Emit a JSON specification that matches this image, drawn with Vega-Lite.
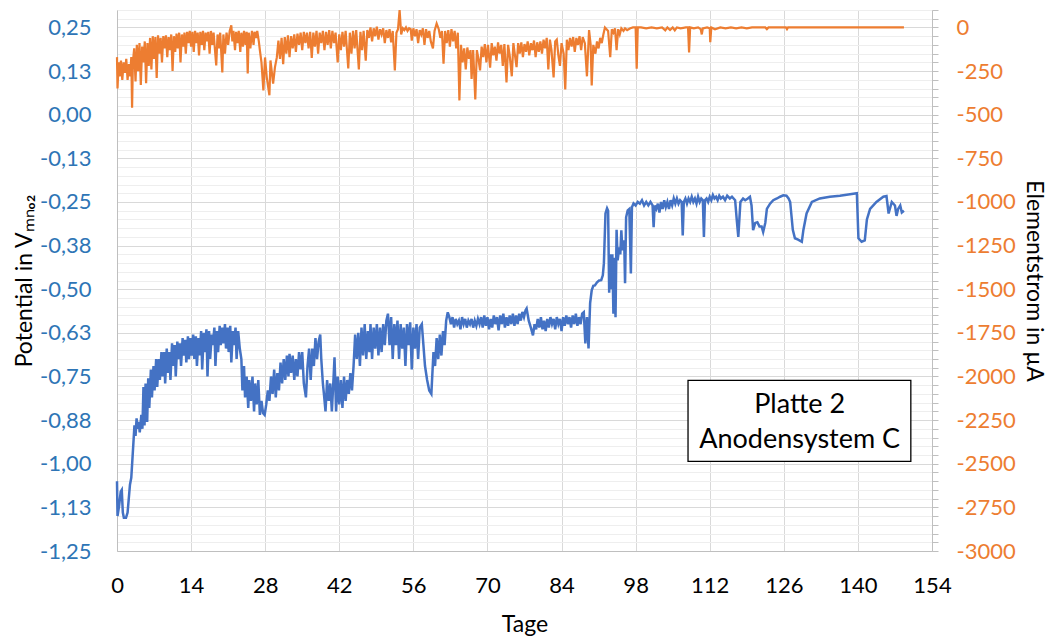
{
"$schema": "https://vega.github.io/schema/vega-lite/v6.json",
"width": 815, "height": 541,
"autosize": {"type": "none"},
"padding": {"left": 117, "top": 10, "right": 118, "bottom": 91},
"background": "white",
"config": {"view": {"stroke": null}, "font": "Lato", "text": {"font": "Lato"}},
"datasets": {
"pot": [
{"t":0,"v":-1.05},{"t":0.1,"v":-1.15},{"t":0.4,"v":-1.12},{"t":0.7,"v":-1.08},{"t":0.9,"v":-1.075},{"t":1.1,"v":-1.14},{"t":1.3,"v":-1.155},{"t":1.7,"v":-1.155},{"t":2.0,"v":-1.14},{"t":2.45,"v":-1.06},{"t":2.7,"v":-1.04},{"t":3.1,"v":-0.94},{"t":3.3,"v":-0.89},{"t":3.5,"v":-0.92},{"t":3.7,"v":-0.87},{"t":3.9,"v":-0.9},{"t":4.1,"v":-0.88},{"t":4.3,"v":-0.91},{"t":4.6,"v":-0.86},{"t":4.8,"v":-0.9},{"t":5.0,"v":-0.78},{"t":5.2,"v":-0.89},{"t":5.4,"v":-0.77},{"t":5.7,"v":-0.88},{"t":5.9,"v":-0.755},{"t":6.1,"v":-0.84},{"t":6.4,"v":-0.73},{"t":6.6,"v":-0.81},{"t":6.9,"v":-0.72},{"t":7.1,"v":-0.79},{"t":7.4,"v":-0.70},{"t":7.6,"v":-0.78},{"t":7.9,"v":-0.70},{"t":8.1,"v":-0.76},{"t":8.4,"v":-0.68},{"t":8.6,"v":-0.75},{"t":8.9,"v":-0.68},{"t":9.1,"v":-0.77},{"t":9.4,"v":-0.67},{"t":9.6,"v":-0.74},{"t":9.9,"v":-0.68},{"t":10.1,"v":-0.76},{"t":10.4,"v":-0.655},{"t":10.6,"v":-0.72},{"t":10.9,"v":-0.66},{"t":11.1,"v":-0.75},{"t":11.4,"v":-0.65},{"t":11.6,"v":-0.70},{"t":11.9,"v":-0.655},{"t":12.1,"v":-0.72},{"t":12.4,"v":-0.64},{"t":12.6,"v":-0.69},{"t":12.9,"v":-0.645},{"t":13.1,"v":-0.71},{"t":13.4,"v":-0.635},{"t":13.6,"v":-0.70},{"t":13.9,"v":-0.64},{"t":14.1,"v":-0.69},{"t":14.4,"v":-0.63},{"t":14.6,"v":-0.70},{"t":14.9,"v":-0.635},{"t":15.1,"v":-0.72},{"t":15.4,"v":-0.64},{"t":15.6,"v":-0.69},{"t":15.9,"v":-0.62},{"t":16.1,"v":-0.73},{"t":16.4,"v":-0.625},{"t":16.6,"v":-0.68},{"t":16.9,"v":-0.615},{"t":17.1,"v":-0.75},{"t":17.4,"v":-0.62},{"t":17.6,"v":-0.70},{"t":17.9,"v":-0.63},{"t":18.1,"v":-0.66},{"t":18.4,"v":-0.61},{"t":18.6,"v":-0.72},{"t":18.9,"v":-0.62},{"t":19.1,"v":-0.68},{"t":19.4,"v":-0.605},{"t":19.6,"v":-0.66},{"t":19.9,"v":-0.61},{"t":20.1,"v":-0.655},{"t":20.4,"v":-0.60},{"t":20.6,"v":-0.67},{"t":20.9,"v":-0.61},{"t":21.1,"v":-0.68},{"t":21.4,"v":-0.605},{"t":21.6,"v":-0.71},{"t":21.9,"v":-0.62},{"t":22.1,"v":-0.66},{"t":22.4,"v":-0.61},{"t":22.6,"v":-0.70},{"t":22.9,"v":-0.62},{"t":23.2,"v":-0.67},{"t":23.5,"v":-0.70},{"t":23.7,"v":-0.79},{"t":24.0,"v":-0.72},{"t":24.2,"v":-0.81},{"t":24.5,"v":-0.75},{"t":24.8,"v":-0.84},{"t":25.0,"v":-0.76},{"t":25.3,"v":-0.82},{"t":25.6,"v":-0.75},{"t":25.9,"v":-0.85},{"t":26.1,"v":-0.77},{"t":26.4,"v":-0.83},{"t":26.7,"v":-0.76},{"t":27.0,"v":-0.86},{"t":27.3,"v":-0.82},{"t":27.6,"v":-0.855},{"t":27.9,"v":-0.86},{"t":28.2,"v":-0.83},{"t":28.5,"v":-0.79},{"t":28.8,"v":-0.82},{"t":29.1,"v":-0.75},{"t":29.4,"v":-0.80},{"t":29.7,"v":-0.73},{"t":30.0,"v":-0.81},{"t":30.3,"v":-0.74},{"t":30.6,"v":-0.79},{"t":30.9,"v":-0.71},{"t":31.2,"v":-0.77},{"t":31.5,"v":-0.70},{"t":31.8,"v":-0.76},{"t":32.1,"v":-0.69},{"t":32.4,"v":-0.75},{"t":32.6,"v":-0.685},{"t":32.9,"v":-0.74},{"t":33.2,"v":-0.69},{"t":33.5,"v":-0.76},{"t":33.8,"v":-0.70},{"t":34.1,"v":-0.75},{"t":34.4,"v":-0.68},{"t":34.7,"v":-0.73},{"t":35.0,"v":-0.68},{"t":35.3,"v":-0.77},{"t":35.7,"v":-0.81},{"t":36.0,"v":-0.72},{"t":36.3,"v":-0.67},{"t":36.6,"v":-0.76},{"t":36.9,"v":-0.67},{"t":37.2,"v":-0.72},{"t":37.5,"v":-0.64},{"t":37.8,"v":-0.70},{"t":38.1,"v":-0.65},{"t":38.4,"v":-0.63},{"t":38.6,"v":-0.70},{"t":38.9,"v":-0.77},{"t":39.1,"v":-0.80},{"t":39.4,"v":-0.85},{"t":39.7,"v":-0.76},{"t":40.0,"v":-0.82},{"t":40.3,"v":-0.77},{"t":40.6,"v":-0.85},{"t":40.9,"v":-0.76},{"t":41.1,"v":-0.695},{"t":41.4,"v":-0.85},{"t":41.7,"v":-0.75},{"t":42.0,"v":-0.83},{"t":42.3,"v":-0.76},{"t":42.6,"v":-0.84},{"t":42.9,"v":-0.75},{"t":43.2,"v":-0.82},{"t":43.5,"v":-0.76},{"t":43.8,"v":-0.80},{"t":44.1,"v":-0.74},{"t":44.4,"v":-0.79},{"t":44.7,"v":-0.72},{"t":45.0,"v":-0.63},{"t":45.3,"v":-0.70},{"t":45.6,"v":-0.625},{"t":45.9,"v":-0.72},{"t":46.2,"v":-0.61},{"t":46.5,"v":-0.69},{"t":46.8,"v":-0.60},{"t":47.1,"v":-0.70},{"t":47.4,"v":-0.62},{"t":47.7,"v":-0.68},{"t":47.9,"v":-0.60},{"t":48.2,"v":-0.70},{"t":48.5,"v":-0.61},{"t":48.8,"v":-0.67},{"t":49.1,"v":-0.60},{"t":49.4,"v":-0.69},{"t":49.7,"v":-0.61},{"t":50.0,"v":-0.68},{"t":50.3,"v":-0.60},{"t":50.6,"v":-0.66},{"t":50.9,"v":-0.59},{"t":51.2,"v":-0.57},{"t":51.5,"v":-0.66},{"t":51.8,"v":-0.58},{"t":52.1,"v":-0.70},{"t":52.4,"v":-0.60},{"t":52.7,"v":-0.66},{"t":53.0,"v":-0.59},{"t":53.3,"v":-0.70},{"t":53.6,"v":-0.60},{"t":53.9,"v":-0.67},{"t":54.2,"v":-0.61},{"t":54.5,"v":-0.72},{"t":54.8,"v":-0.60},{"t":55.1,"v":-0.66},{"t":55.4,"v":-0.595},{"t":55.7,"v":-0.73},{"t":56.0,"v":-0.61},{"t":56.3,"v":-0.67},{"t":56.6,"v":-0.60},{"t":56.9,"v":-0.70},{"t":57.2,"v":-0.61},{"t":57.6,"v":-0.60},{"t":57.9,"v":-0.66},{"t":58.2,"v":-0.72},{"t":58.6,"v":-0.76},{"t":59.0,"v":-0.79},{"t":59.4,"v":-0.80},{"t":59.8,"v":-0.68},{"t":60.1,"v":-0.72},{"t":60.4,"v":-0.64},{"t":60.7,"v":-0.70},{"t":61.0,"v":-0.63},{"t":61.3,"v":-0.69},{"t":61.6,"v":-0.62},{"t":61.9,"v":-0.66},{"t":62.2,"v":-0.59},{"t":62.5,"v":-0.566},{"t":62.8,"v":-0.58},{"t":63.1,"v":-0.60},{"t":63.4,"v":-0.58},{"t":63.7,"v":-0.61},{"t":64.0,"v":-0.585},{"t":64.3,"v":-0.60},{"t":64.6,"v":-0.59},{"t":64.9,"v":-0.615},{"t":65.2,"v":-0.58},{"t":65.5,"v":-0.60},{"t":65.8,"v":-0.585},{"t":66.1,"v":-0.61},{"t":66.4,"v":-0.59},{"t":66.7,"v":-0.60},{"t":67.0,"v":-0.585},{"t":67.3,"v":-0.61},{"t":67.6,"v":-0.59},{"t":67.9,"v":-0.605},{"t":68.2,"v":-0.585},{"t":68.5,"v":-0.60},{"t":68.8,"v":-0.58},{"t":69.1,"v":-0.61},{"t":69.4,"v":-0.575},{"t":69.7,"v":-0.605},{"t":70.0,"v":-0.58},{"t":70.3,"v":-0.615},{"t":70.6,"v":-0.585},{"t":70.9,"v":-0.61},{"t":71.2,"v":-0.575},{"t":71.5,"v":-0.60},{"t":71.8,"v":-0.58},{"t":72.1,"v":-0.618},{"t":72.4,"v":-0.575},{"t":72.7,"v":-0.60},{"t":73.0,"v":-0.57},{"t":73.3,"v":-0.61},{"t":73.6,"v":-0.58},{"t":73.9,"v":-0.605},{"t":74.2,"v":-0.575},{"t":74.5,"v":-0.60},{"t":74.8,"v":-0.57},{"t":75.1,"v":-0.605},{"t":75.4,"v":-0.575},{"t":75.7,"v":-0.60},{"t":76.0,"v":-0.57},{"t":76.3,"v":-0.59},{"t":76.6,"v":-0.565},{"t":76.9,"v":-0.58},{"t":77.2,"v":-0.56},{"t":77.4,"v":-0.555},{"t":77.8,"v":-0.59},{"t":78.2,"v":-0.61},{"t":78.6,"v":-0.632},{"t":78.9,"v":-0.60},{"t":79.2,"v":-0.615},{"t":79.5,"v":-0.585},{"t":79.8,"v":-0.61},{"t":80.1,"v":-0.58},{"t":80.4,"v":-0.615},{"t":80.7,"v":-0.59},{"t":81.0,"v":-0.62},{"t":81.3,"v":-0.585},{"t":81.6,"v":-0.61},{"t":81.9,"v":-0.58},{"t":82.2,"v":-0.60},{"t":82.5,"v":-0.585},{"t":82.8,"v":-0.615},{"t":83.1,"v":-0.58},{"t":83.4,"v":-0.60},{"t":83.7,"v":-0.585},{"t":84.0,"v":-0.62},{"t":84.3,"v":-0.58},{"t":84.6,"v":-0.605},{"t":84.9,"v":-0.575},{"t":85.2,"v":-0.60},{"t":85.5,"v":-0.58},{"t":85.8,"v":-0.61},{"t":86.1,"v":-0.575},{"t":86.4,"v":-0.60},{"t":86.7,"v":-0.57},{"t":87.0,"v":-0.605},{"t":87.3,"v":-0.58},{"t":87.6,"v":-0.60},{"t":87.9,"v":-0.57},{"t":88.2,"v":-0.566},{"t":88.5,"v":-0.655},{"t":88.8,"v":-0.58},{"t":89.1,"v":-0.67},{"t":89.4,"v":-0.54},{"t":89.7,"v":-0.503},{"t":90.0,"v":-0.49},{"t":90.3,"v":-0.489},{"t":90.7,"v":-0.48},{"t":91.1,"v":-0.475},{"t":91.5,"v":-0.474},{"t":91.8,"v":-0.46},{"t":92.0,"v":-0.426},{"t":92.3,"v":-0.283},{"t":92.6,"v":-0.268},{"t":92.8,"v":-0.275},{"t":93.0,"v":-0.51},{"t":93.2,"v":-0.40},{"t":93.4,"v":-0.50},{"t":93.6,"v":-0.40},{"t":93.8,"v":-0.57},{"t":94.0,"v":-0.41},{"t":94.2,"v":-0.58},{"t":94.4,"v":-0.33},{"t":94.6,"v":-0.417},{"t":94.9,"v":-0.38},{"t":95.1,"v":-0.40},{"t":95.3,"v":-0.331},{"t":95.5,"v":-0.389},{"t":95.7,"v":-0.36},{"t":95.85,"v":-0.37},{"t":96.0,"v":-0.483},{"t":96.2,"v":-0.294},{"t":96.5,"v":-0.274},{"t":96.8,"v":-0.27},{"t":97.1,"v":-0.455},{"t":97.3,"v":-0.265},{"t":97.6,"v":-0.254},{"t":98.0,"v":-0.26},{"t":98.4,"v":-0.25},{"t":98.8,"v":-0.255},{"t":99.2,"v":-0.245},{"t":99.6,"v":-0.26},{"t":100.0,"v":-0.25},{"t":100.4,"v":-0.26},{"t":100.8,"v":-0.25},{"t":101.2,"v":-0.26},{"t":101.4,"v":-0.322},{"t":101.6,"v":-0.26},{"t":101.9,"v":-0.27},{"t":102.2,"v":-0.255},{"t":102.5,"v":-0.28},{"t":102.8,"v":-0.25},{"t":103.1,"v":-0.27},{"t":103.4,"v":-0.245},{"t":103.7,"v":-0.265},{"t":104.0,"v":-0.25},{"t":104.3,"v":-0.27},{"t":104.6,"v":-0.245},{"t":104.9,"v":-0.26},{"t":105.2,"v":-0.24},{"t":105.5,"v":-0.255},{"t":105.8,"v":-0.24},{"t":106.1,"v":-0.255},{"t":106.4,"v":-0.245},{"t":106.7,"v":-0.25},{"t":106.9,"v":-0.346},{"t":107.1,"v":-0.25},{"t":107.4,"v":-0.24},{"t":107.7,"v":-0.255},{"t":108.0,"v":-0.24},{"t":108.3,"v":-0.25},{"t":108.6,"v":-0.235},{"t":108.9,"v":-0.25},{"t":109.2,"v":-0.24},{"t":109.5,"v":-0.255},{"t":109.8,"v":-0.235},{"t":110.1,"v":-0.25},{"t":110.4,"v":-0.24},{"t":110.7,"v":-0.245},{"t":110.9,"v":-0.35},{"t":111.1,"v":-0.245},{"t":111.4,"v":-0.24},{"t":111.7,"v":-0.25},{"t":112.0,"v":-0.235},{"t":112.3,"v":-0.245},{"t":112.6,"v":-0.23},{"t":112.9,"v":-0.24},{"t":113.2,"v":-0.235},{"t":113.5,"v":-0.245},{"t":113.8,"v":-0.232},{"t":114.1,"v":-0.24},{"t":114.5,"v":-0.235},{"t":114.9,"v":-0.245},{"t":115.3,"v":-0.232},{"t":115.8,"v":-0.24},{"t":116.2,"v":-0.235},{"t":116.8,"v":-0.245},{"t":117.1,"v":-0.30},{"t":117.4,"v":-0.35},{"t":117.8,"v":-0.25},{"t":118.3,"v":-0.24},{"t":118.7,"v":-0.245},{"t":119.2,"v":-0.24},{"t":119.6,"v":-0.235},{"t":119.9,"v":-0.26},{"t":120.2,"v":-0.331},{"t":120.6,"v":-0.31},{"t":121.0,"v":-0.308},{"t":121.4,"v":-0.32},{"t":121.8,"v":-0.32},{"t":122.1,"v":-0.336},{"t":122.5,"v":-0.31},{"t":122.8,"v":-0.27},{"t":123.4,"v":-0.255},{"t":124.0,"v":-0.245},{"t":124.7,"v":-0.24},{"t":125.3,"v":-0.235},{"t":125.9,"v":-0.231},{"t":126.5,"v":-0.232},{"t":126.9,"v":-0.24},{"t":127.2,"v":-0.25},{"t":127.7,"v":-0.33},{"t":128.1,"v":-0.354},{"t":128.7,"v":-0.358},{"t":129.4,"v":-0.364},{"t":129.7,"v":-0.33},{"t":130.3,"v":-0.283},{"t":131.3,"v":-0.25},{"t":132.8,"v":-0.24},{"t":134.7,"v":-0.235},{"t":136.6,"v":-0.232},{"t":138.5,"v":-0.228},{"t":139.8,"v":-0.225},{"t":140.1,"v":-0.354},{"t":140.7,"v":-0.364},{"t":141.3,"v":-0.36},{"t":141.7,"v":-0.30},{"t":142.3,"v":-0.27},{"t":143.5,"v":-0.25},{"t":144.8,"v":-0.235},{"t":145.4,"v":-0.233},{"t":145.8,"v":-0.283},{"t":146.4,"v":-0.25},{"t":147.0,"v":-0.26},{"t":147.3,"v":-0.29},{"t":147.6,"v":-0.27},{"t":148.0,"v":-0.26},{"t":148.3,"v":-0.28},{"t":148.7,"v":-0.275}
],
"cur": [
{"t":0,"c":-170},{"t":0.1,"c":-350},{"t":0.3,"c":-200},{"t":0.5,"c":-280},{"t":0.75,"c":-190},{"t":1.0,"c":-300},{"t":1.25,"c":-200},{"t":1.5,"c":-260},{"t":1.75,"c":-180},{"t":2.0,"c":-300},{"t":2.25,"c":-210},{"t":2.5,"c":-280},{"t":2.7,"c":-170},{"t":2.85,"c":-460},{"t":3.0,"c":-200},{"t":3.25,"c":-120},{"t":3.5,"c":-310},{"t":3.75,"c":-100},{"t":4.0,"c":-250},{"t":4.25,"c":-90},{"t":4.5,"c":-330},{"t":4.75,"c":-110},{"t":5.0,"c":-200},{"t":5.25,"c":-80},{"t":5.5,"c":-320},{"t":5.75,"c":-90},{"t":6.0,"c":-220},{"t":6.25,"c":-60},{"t":6.5,"c":-240},{"t":6.75,"c":-50},{"t":7.0,"c":-180},{"t":7.25,"c":-55},{"t":7.5,"c":-290},{"t":7.75,"c":-45},{"t":8.0,"c":-150},{"t":8.25,"c":-60},{"t":8.5,"c":-200},{"t":8.75,"c":-50},{"t":9.0,"c":-120},{"t":9.25,"c":-45},{"t":9.5,"c":-170},{"t":9.75,"c":-55},{"t":10.0,"c":-130},{"t":10.25,"c":-40},{"t":10.5,"c":-250},{"t":10.75,"c":-50},{"t":11.0,"c":-140},{"t":11.25,"c":-35},{"t":11.5,"c":-120},{"t":11.75,"c":-30},{"t":12.0,"c":-200},{"t":12.25,"c":-40},{"t":12.5,"c":-110},{"t":12.75,"c":-30},{"t":13.0,"c":-150},{"t":13.25,"c":-25},{"t":13.5,"c":-90},{"t":13.75,"c":-20},{"t":14.0,"c":-110},{"t":14.25,"c":-25},{"t":14.5,"c":-140},{"t":14.75,"c":-20},{"t":15.0,"c":-90},{"t":15.25,"c":-30},{"t":15.5,"c":-160},{"t":15.75,"c":-25},{"t":16.0,"c":-100},{"t":16.25,"c":-20},{"t":16.5,"c":-130},{"t":16.75,"c":-30},{"t":17.0,"c":-80},{"t":17.25,"c":-25},{"t":17.5,"c":-150},{"t":17.75,"c":-20},{"t":18.0,"c":-100},{"t":18.25,"c":-30},{"t":18.75,"c":-218},{"t":19.0,"c":-40},{"t":19.25,"c":-120},{"t":19.5,"c":-30},{"t":19.9,"c":-258},{"t":20.1,"c":-40},{"t":20.4,"c":-150},{"t":20.7,"c":-30},{"t":21.0,"c":-100},{"t":21.3,"c":-20},{"t":21.6,"c":12},{"t":21.8,"c":-80},{"t":22.0,"c":-20},{"t":22.3,"c":-130},{"t":22.5,"c":-25},{"t":22.8,"c":-90},{"t":23.0,"c":-20},{"t":23.3,"c":-140},{"t":23.5,"c":-30},{"t":23.8,"c":-110},{"t":24.0,"c":-20},{"t":24.3,"c":-100},{"t":24.5,"c":-25},{"t":24.7,"c":-264},{"t":24.9,"c":-30},{"t":25.2,"c":-120},{"t":25.5,"c":-20},{"t":25.8,"c":-100},{"t":26.0,"c":-25},{"t":26.3,"c":-60},{"t":26.5,"c":-20},{"t":26.8,"c":-80},{"t":27.0,"c":-132},{"t":27.3,"c":-200},{"t":27.66,"c":-361},{"t":27.97,"c":-172},{"t":28.3,"c":-286},{"t":28.8,"c":-389},{"t":29.0,"c":-189},{"t":29.5,"c":-322},{"t":29.85,"c":-227},{"t":30.2,"c":-172},{"t":30.5,"c":-75},{"t":30.8,"c":-180},{"t":31.1,"c":-60},{"t":31.4,"c":-210},{"t":31.7,"c":-55},{"t":32.0,"c":-150},{"t":32.3,"c":-45},{"t":32.6,"c":-170},{"t":32.9,"c":-50},{"t":33.2,"c":-120},{"t":33.5,"c":-40},{"t":33.8,"c":-140},{"t":34.1,"c":-35},{"t":34.4,"c":-100},{"t":34.7,"c":-30},{"t":35.0,"c":-130},{"t":35.3,"c":-25},{"t":35.6,"c":-90},{"t":35.9,"c":-30},{"t":36.2,"c":-120},{"t":36.5,"c":-25},{"t":36.8,"c":-175},{"t":37.1,"c":-30},{"t":37.4,"c":-110},{"t":37.7,"c":-20},{"t":38.0,"c":-150},{"t":38.3,"c":-30},{"t":38.6,"c":-90},{"t":38.9,"c":-20},{"t":39.2,"c":-130},{"t":39.5,"c":-25},{"t":39.8,"c":-100},{"t":40.1,"c":-15},{"t":40.4,"c":-120},{"t":40.7,"c":-20},{"t":41.0,"c":-90},{"t":41.3,"c":-30},{"t":41.7,"c":-200},{"t":42.0,"c":-40},{"t":42.3,"c":-130},{"t":42.6,"c":-25},{"t":42.9,"c":-110},{"t":43.2,"c":-20},{"t":43.7,"c":-235},{"t":44.0,"c":-30},{"t":44.3,"c":-150},{"t":44.6,"c":-20},{"t":44.9,"c":-120},{"t":45.2,"c":-15},{"t":45.7,"c":-240},{"t":46.0,"c":-25},{"t":46.3,"c":-130},{"t":46.6,"c":-20},{"t":47.0,"c":-190},{"t":47.3,"c":-15},{"t":47.6,"c":-60},{"t":47.9,"c":0},{"t":48.2,"c":-80},{"t":48.5,"c":-5},{"t":48.8,"c":-50},{"t":49.1,"c":5},{"t":49.4,"c":-70},{"t":49.7,"c":-10},{"t":50.0,"c":-40},{"t":50.3,"c":-5},{"t":50.6,"c":-90},{"t":50.9,"c":-15},{"t":51.2,"c":-60},{"t":51.5,"c":-10},{"t":51.8,"c":-85},{"t":52.1,"c":-20},{"t":52.5,"c":-246},{"t":52.8,"c":-30},{"t":53.1,"c":-10},{"t":53.4,"c":100},{"t":53.7,"c":-40},{"t":54.0,"c":-5},{"t":54.3,"c":-15},{"t":54.6,"c":0},{"t":54.9,"c":-20},{"t":55.2,"c":-5},{"t":55.5,"c":-10},{"t":55.7,"c":-75},{"t":56.0,"c":-5},{"t":56.3,"c":-50},{"t":56.6,"c":-10},{"t":56.9,"c":-90},{"t":57.2,"c":-15},{"t":57.5,"c":-40},{"t":57.8,"c":-5},{"t":58.1,"c":-100},{"t":58.4,"c":-10},{"t":58.7,"c":-60},{"t":59.0,"c":-20},{"t":59.3,"c":-80},{"t":59.7,"c":-120},{"t":60.0,"c":-20},{"t":60.4,"c":23},{"t":60.8,"c":-10},{"t":61.1,"c":-60},{"t":61.4,"c":-20},{"t":61.7,"c":-207},{"t":62.0,"c":-20},{"t":62.3,"c":-90},{"t":62.6,"c":-15},{"t":62.9,"c":-110},{"t":63.2,"c":-10},{"t":63.5,"c":-80},{"t":63.8,"c":-20},{"t":64.1,"c":-120},{"t":64.4,"c":-30},{"t":64.7,"c":-418},{"t":65.0,"c":-100},{"t":65.3,"c":-200},{"t":65.6,"c":-120},{"t":65.9,"c":-240},{"t":66.2,"c":-115},{"t":66.5,"c":-180},{"t":66.8,"c":-130},{"t":67.0,"c":-295},{"t":67.3,"c":-130},{"t":67.7,"c":-413},{"t":68.0,"c":-130},{"t":68.3,"c":-180},{"t":68.6,"c":-246},{"t":68.9,"c":-110},{"t":69.2,"c":-170},{"t":69.5,"c":-95},{"t":69.8,"c":-200},{"t":70.1,"c":-100},{"t":70.5,"c":-230},{"t":70.8,"c":-90},{"t":71.1,"c":-160},{"t":71.4,"c":-110},{"t":71.7,"c":-190},{"t":72.0,"c":-85},{"t":72.3,"c":-150},{"t":72.6,"c":-100},{"t":72.9,"c":-220},{"t":73.2,"c":-95},{"t":73.6,"c":-315},{"t":73.9,"c":-100},{"t":74.2,"c":-160},{"t":74.6,"c":-280},{"t":74.9,"c":-90},{"t":75.2,"c":-160},{"t":75.5,"c":-227},{"t":75.8,"c":-90},{"t":76.1,"c":-150},{"t":76.4,"c":-85},{"t":76.7,"c":-170},{"t":77.0,"c":-95},{"t":77.3,"c":-140},{"t":77.6,"c":-80},{"t":77.9,"c":-160},{"t":78.2,"c":-90},{"t":78.5,"c":-130},{"t":78.8,"c":-75},{"t":79.1,"c":-170},{"t":79.4,"c":-85},{"t":79.7,"c":-140},{"t":80.0,"c":-80},{"t":80.3,"c":-150},{"t":80.6,"c":-70},{"t":80.9,"c":-120},{"t":81.2,"c":-60},{"t":81.5,"c":-240},{"t":81.8,"c":-70},{"t":82.1,"c":-130},{"t":82.5,"c":-286},{"t":82.8,"c":-80},{"t":83.1,"c":-70},{"t":83.4,"c":-160},{"t":83.7,"c":-220},{"t":84.0,"c":-90},{"t":84.4,"c":-150},{"t":84.7,"c":-355},{"t":85.0,"c":-70},{"t":85.3,"c":-130},{"t":85.6,"c":-60},{"t":85.9,"c":-110},{"t":86.2,"c":-55},{"t":86.5,"c":-140},{"t":86.8,"c":-60},{"t":87.1,"c":-100},{"t":87.4,"c":-50},{"t":87.7,"c":-130},{"t":88.0,"c":-55},{"t":88.4,"c":-90},{"t":88.8,"c":-280},{"t":89.2,"c":-15},{"t":89.5,"c":-100},{"t":89.7,"c":-332},{"t":90.0,"c":-100},{"t":90.4,"c":-150},{"t":90.7,"c":-80},{"t":91.0,"c":-120},{"t":91.3,"c":-60},{"t":91.6,"c":-90},{"t":91.9,"c":-40},{"t":92.2,"c":0},{"t":92.5,"c":-10},{"t":92.8,"c":-20},{"t":93.2,"c":-170},{"t":93.5,"c":-10},{"t":93.8,"c":-30},{"t":94.1,"c":-5},{"t":94.4,"c":-130},{"t":94.7,"c":-10},{"t":95.0,"c":-40},{"t":95.3,"c":-5},{"t":95.7,"c":-20},{"t":96.0,"c":-5},{"t":96.4,"c":-15},{"t":97.0,"c":-5},{"t":97.5,"c":0},{"t":98.0,"c":0},{"t":98.2,"c":-237},{"t":98.4,"c":0},{"t":99,"c":0},{"t":100,"c":-5},{"t":101,"c":0},{"t":102,"c":-5},{"t":103,"c":0},{"t":103.6,"c":-17},{"t":104,"c":0},{"t":104.5,"c":-15},{"t":105,"c":0},{"t":105.4,"c":-17},{"t":105.8,"c":0},{"t":106.5,"c":-5},{"t":107.5,"c":0},{"t":107.9,"c":0},{"t":108.1,"c":-143},{"t":108.3,"c":0},{"t":109,"c":-5},{"t":109.8,"c":0},{"t":110.3,"c":-10},{"t":110.5,"c":-40},{"t":110.7,"c":-5},{"t":111.5,"c":0},{"t":112.0,"c":-5},{"t":112.1,"c":-85},{"t":112.3,"c":0},{"t":113,"c":-10},{"t":114,"c":0},{"t":115,"c":-5},{"t":116,"c":0},{"t":117,"c":-5},{"t":118,"c":0},{"t":119,"c":-5},{"t":120,"c":0},{"t":122.5,"c":0},{"t":122.8,"c":-10},{"t":123.1,"c":0},{"t":126.4,"c":0},{"t":126.6,"c":-10},{"t":126.8,"c":0},{"t":148.7,"c":0}
]
},
"layer": [
 {"data": {"name": "pot"},
  "mark": {"type": "line", "color": "#4472C4", "strokeWidth": 2.5},
  "encoding": {
   "x": {"field": "t", "type": "quantitative", "scale": {"domain": [0, 154], "nice": false, "zero": false},
     "axis": {"values": [0,14,28,42,56,70,84,98,112,126,140,154], "title": "Tage", "grid": true, "gridColor": "#d9d9d9", "gridWidth": 1,
       "ticks": false, "domainColor": "#bfbfbf", "domainWidth": 1, "labelFontSize": 22, "labelColor": "#000000", "labelFont": "Lato",
       "labelPadding": 24, "labelFlush": false, "labelOverlap": false, "titleFontSize": 23, "titleFont": "Lato", "titleFontWeight": "normal", "titleColor": "#000000", "titlePadding": 17}},
   "y": {"field": "v", "type": "quantitative", "scale": {"domain": [-1.25, 0.3], "nice": false, "zero": false},
     "axis": {"values": [-1.25,-1.225,-1.2,-1.175,-1.15,-1.125,-1.1,-1.075,-1.05,-1.025,-1.0,-0.975,-0.95,-0.925,-0.9,-0.875,-0.85,-0.825,-0.8,-0.775,-0.75,-0.725,-0.7,-0.675,-0.65,-0.625,-0.6,-0.575,-0.55,-0.525,-0.5,-0.475,-0.45,-0.425,-0.4,-0.375,-0.35,-0.325,-0.3,-0.275,-0.25,-0.225,-0.2,-0.175,-0.15,-0.125,-0.1,-0.075,-0.05,-0.025,0,0.025,0.05,0.075,0.1,0.125,0.15,0.175,0.2,0.225,0.25,0.275,0.3],
       "labelExpr": "abs(datum.value*8 - round(datum.value*8)) < 0.01 ? ((datum.value < -0.0001 ? '-' : '') + replace(format(abs(datum.value), '.2f'), '.', ',')) : ''",
       "title": "Potential in Vₘₙₒ₂", "grid": true,
       "gridColor": {"condition": {"test": "abs(datum.value*8 - round(datum.value*8)) < 0.01", "value": "#d9d9d9"}, "value": "#eeeeee"},
       "ticks": false, "domainColor": "#bfbfbf", "labelFontSize": 22, "labelColor": "#2E75B6", "labelFont": "Lato", "labelPadding": 26,
       "labelOverlap": false, "titleFontSize": 23, "titleFont": "Lato", "titleFontWeight": "normal", "titleColor": "#000000", "titlePadding": 3}}
  }},
 {"data": {"name": "cur"},
  "mark": {"type": "line", "color": "#ED7D31", "strokeWidth": 2.2},
  "encoding": {
   "x": {"field": "t", "type": "quantitative", "scale": {"domain": [0, 154], "nice": false, "zero": false}},
   "y": {"field": "c", "type": "quantitative", "scale": {"domain": [-3000, 100], "nice": false, "zero": false},
     "axis": {"orient": "right", "values": [-3000,-2950,-2900,-2850,-2800,-2750,-2700,-2650,-2600,-2550,-2500,-2450,-2400,-2350,-2300,-2250,-2200,-2150,-2100,-2050,-2000,-1950,-1900,-1850,-1800,-1750,-1700,-1650,-1600,-1550,-1500,-1450,-1400,-1350,-1300,-1250,-1200,-1150,-1100,-1050,-1000,-950,-900,-850,-800,-750,-700,-650,-600,-550,-500,-450,-400,-350,-300,-250,-200,-150,-100,-50,0,50,100],
       "labelExpr": "datum.value % 250 == 0 ? ((datum.value < 0 ? '-' : '') + format(abs(datum.value), 'd')) : ''",
       "title": "Elementstrom in µA", "grid": false, "ticks": true, "tickSize": 6, "tickColor": "#bfbfbf", "domainColor": "#bfbfbf",
       "labelFontSize": 22, "labelColor": "#ED7D31", "labelFont": "Lato", "labelPadding": 18, "labelOverlap": false,
       "titleFontSize": 23, "titleFont": "Lato", "titleFontWeight": "normal", "titleColor": "#000000", "titlePadding": 6}}
  }},
 {"data": {"values": [{}]},
  "mark": {"type": "rect", "fill": "white", "stroke": "#000000", "strokeWidth": 1.3},
  "encoding": {"x": {"datum": 107.9, "type": "quantitative"}, "x2": {"datum": 150},
    "y": {"datum": -0.761, "type": "quantitative", "scale": {"domain": [-1.25, 0.3], "nice": false, "zero": false}, "axis": null}, "y2": {"datum": -0.993}}},
 {"data": {"values": [{}]},
  "mark": {"type": "text", "text": "Platte 2", "fontSize": 27, "font": "Lato", "color": "#000000", "align": "center", "baseline": "middle"},
  "encoding": {"x": {"datum": 129, "type": "quantitative"},
    "y": {"datum": -0.832, "type": "quantitative", "scale": {"domain": [-1.25, 0.3], "nice": false, "zero": false}, "axis": null}}},
 {"data": {"values": [{}]},
  "mark": {"type": "text", "text": "Anodensystem C", "fontSize": 27, "font": "Lato", "color": "#000000", "align": "center", "baseline": "middle"},
  "encoding": {"x": {"datum": 129, "type": "quantitative"},
    "y": {"datum": -0.932, "type": "quantitative", "scale": {"domain": [-1.25, 0.3], "nice": false, "zero": false}, "axis": null}}}
],
"resolve": {"scale": {"y": "independent"}}
}
